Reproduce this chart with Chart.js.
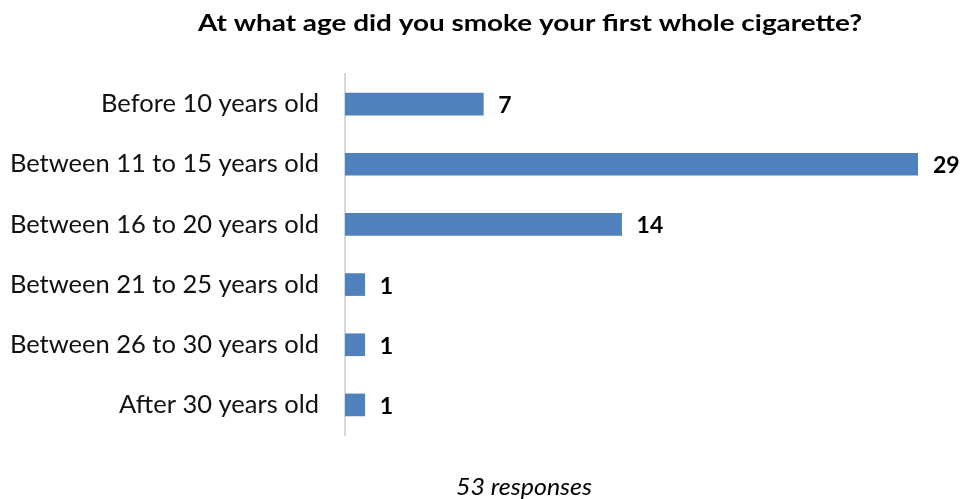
<!DOCTYPE html>
<html>
<head>
<meta charset="utf-8">
<script src="https://cdn.jsdelivr.net/npm/chart.js@4"></script>
<style>
  html, body { margin: 0; padding: 0; background: #fff; }
  #wrap { width: 964px; height: 499px; position: relative; }
</style>
</head>
<body>
<div id="wrap"><canvas id="my-chart"></canvas></div>
<script>
'use strict';

// ******* DATA *********
let chartTitle = 'At what age did you smoke your first whole cigarette?';
let footNote = '53 responses';
let ageGroups = [
  'Before 10 years old',
  'Between 11 to 15 years old',
  'Between 16 to 20 years old',
  'Between 21 to 25 years old',
  'Between 26 to 30 years old',
  'After 30 years old'
];
let answerCounts = [7, 29, 14, 1, 1, 1];

let fontName = 'Lato, "Open Sans", sans-serif';

// draw text squeezed / stretched to a given width
function fitText(c, text, x, y, width) {
  let w = c.measureText(text).width;
  c.save();
  c.translate(x, y);
  c.scale(width / w, 1);
  c.fillText(text, 0, 0);
  c.restore();
}

// ******* PLUGIN: value labels + title / footnote *****
let valueLabels = {
  id: 'valueLabels',
  afterDatasetsDraw(chart) {
    let c = chart.ctx;
    let meta = chart.getDatasetMeta(0);
    c.save();
    c.fillStyle = '#000';
    c.font = 'bold 23px ' + fontName;
    c.textAlign = 'left';
    c.textBaseline = 'alphabetic';
    meta.data.forEach(function (bar, i) {
      c.fillText(String(answerCounts[i]), bar.x + 15, bar.y + 9);
    });
    c.restore();
  },
  afterDraw(chart) {
    let c = chart.ctx;
    c.save();
    c.fillStyle = '#000';
    c.textAlign = 'left';
    c.textBaseline = 'alphabetic';
    c.font = 'bold 23px ' + fontName;
    fitText(c, chartTitle, 198, 31, 664);
    c.font = 'italic 23px ' + fontName;
    fitText(c, footNote, 456, 495, 136);
    c.restore();
  }
};

// ******* CHART *****
let ctx = document.getElementById('my-chart');

new Chart(ctx, { //eslint-disable-line
  type: 'bar',
  data: {
    labels: ageGroups,
    datasets: [{
      data: answerCounts,
      backgroundColor: '#4f81bd',
      borderWidth: 0,
      barThickness: 22
    }]
  },
  options: {
    indexAxis: 'y',
    responsive: true,
    maintainAspectRatio: false,
    animation: false,
    layout: {
      padding: { top: 74, right: 46, bottom: 64, left: 0 }
    },
    plugins: {
      legend: { display: false },
      tooltip: { enabled: false }
    },
    scales: {
      x: {
        display: false,
        min: 0,
        max: 29
      },
      y: {
        grid: { display: false, drawTicks: false },
        border: { display: true, color: '#d9d9d9', width: 2 },
        ticks: {
          color: '#111',
          padding: 26,
          font: { family: fontName, size: 25.5 }
        },
        afterFit(scale) {
          scale.width = 345;
        }
      }
    }
  },
  plugins: [valueLabels]
});
</script>
</body>
</html>
